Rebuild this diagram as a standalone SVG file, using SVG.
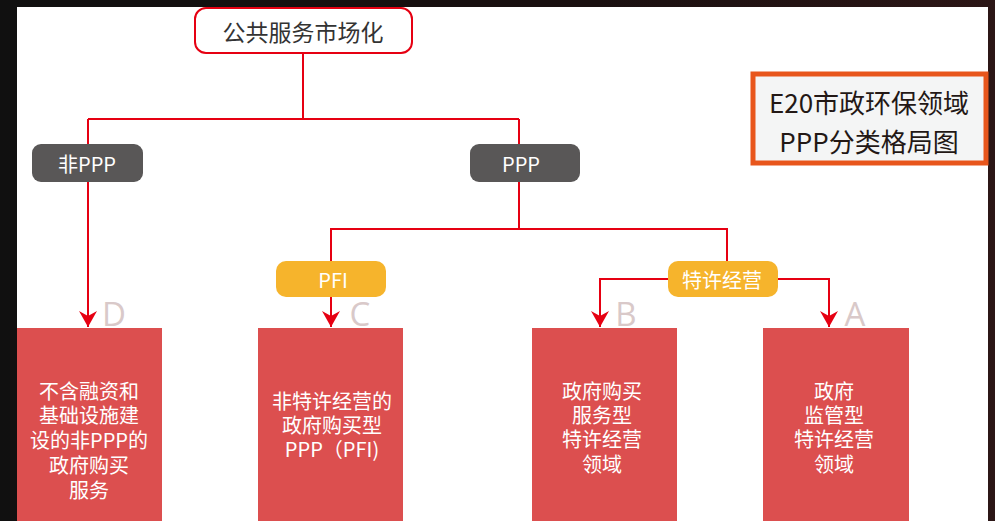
<svg xmlns="http://www.w3.org/2000/svg" width="995" height="521" viewBox="0 0 995 521">
<defs>
<linearGradient id="frame" x1="0" y1="0" x2="1" y2="0">
<stop offset="0" stop-color="#101010"/>
<stop offset="0.6" stop-color="#1a1010"/>
<stop offset="1" stop-color="#2c1616"/>
</linearGradient>
<marker id="arr" viewBox="0 0 16 18" refX="16" refY="9" markerWidth="16" markerHeight="18" markerUnits="userSpaceOnUse" orient="auto">
<path d="M16,9 L0,0 L5,9 L0,18 Z" fill="#e60012"/>
</marker>
</defs>
<style>
.cjk{font-family:"Noto Sans CJK SC","Noto Sans",sans-serif;}
.line{fill:none;stroke:#e60012;stroke-width:2;}
.gray{fill:#595757;}
.yel{fill:#f6b42c;}
.red{fill:#dc4f4f;}
.wt{fill:#ffffff;font-size:20px;text-anchor:middle;dominant-baseline:central;}
.lbl{fill:#d9c9c9;font-family:"Open Sans","Noto Sans",sans-serif;font-size:33px;text-anchor:middle;}
</style>
<rect x="0" y="0" width="995" height="521" fill="url(#frame)"/>
<rect x="17" y="7" width="971" height="514" fill="#ffffff"/>

<g id="connectors">
<polyline class="line" points="303,53 303,119"/>
<polyline class="line" points="88,119 519,119"/>
<polyline class="line" points="519,119 519,145"/>
<polyline class="line" points="88,119 88,145"/>
<polyline class="line" points="88,182 88,327" marker-end="url(#arr)"/>
<polyline class="line" points="519,182 519,229 331,229 331,327" marker-end="url(#arr)"/>
<polyline class="line" points="519,229 727,229 727,263"/>
<polyline class="line" points="669,279 600,279 600,327" marker-end="url(#arr)"/>
<polyline class="line" points="777,279 829,279 829,327" marker-end="url(#arr)"/>
</g>

<g id="root">
<rect x="195" y="8" width="217" height="45" rx="11" fill="#ffffff" stroke="#e60012" stroke-width="2"/>
<text class="cjk" x="303" y="31" font-size="23" fill="#333333" text-anchor="middle" dominant-baseline="central">公共服务市场化</text>
</g>

<g id="title">
<rect x="753" y="74" width="233" height="89" fill="#f4f5f5" stroke="#e8561c" stroke-width="5"/>
<text class="cjk" font-size="26" fill="#231815" text-anchor="middle" dominant-baseline="central"><tspan x="869" y="101">E20市政环保领域</tspan><tspan x="869" y="140">PPP分类格局图</tspan></text>
</g>

<g id="nonppp">
<rect class="gray" x="32" y="144" width="111" height="38" rx="9"/>
<text class="cjk wt" x="87" y="163" font-size="21">非PPP</text>
</g>

<g id="ppp">
<rect class="gray" x="470" y="144" width="110" height="38" rx="9"/>
<text class="cjk wt" x="521" y="163" font-size="21">PPP</text>
</g>

<g id="pfi">
<rect class="yel" x="276" y="261" width="110" height="36" rx="10"/>
<text class="cjk wt" x="333" y="279" font-size="21">PFI</text>
</g>

<g id="franchise">
<rect class="yel" x="668" y="261" width="110" height="36" rx="10"/>
<text class="cjk wt" x="722" y="279" font-size="22">特许经营</text>
</g>

<g id="boxD">
<rect class="red" x="17" y="328" width="145" height="193"/>
<text class="lbl" x="114" y="326">D</text>
<text class="cjk wt"><tspan x="89" y="390">不含融资和</tspan><tspan x="89" y="414">基础设施建</tspan><tspan x="89" y="439">设的非PPP的</tspan><tspan x="89" y="464">政府购买</tspan><tspan x="89" y="489">服务</tspan></text>
</g>

<g id="boxC">
<rect class="red" x="258" y="328" width="145" height="193"/>
<text class="lbl" x="360" y="326">C</text>
<text class="cjk wt"><tspan x="332" y="400">非特许经营的</tspan><tspan x="332" y="424">政府购买型</tspan><tspan x="332" y="448">PPP（PFI)</tspan></text>
</g>

<g id="boxB">
<rect class="red" x="532" y="328" width="145" height="193"/>
<text class="lbl" x="626" y="326">B</text>
<text class="cjk wt"><tspan x="602" y="390">政府购买</tspan><tspan x="602" y="414">服务型</tspan><tspan x="602" y="438">特许经营</tspan><tspan x="602" y="463">领域</tspan></text>
</g>

<g id="boxA">
<rect class="red" x="763" y="328" width="146" height="193"/>
<text class="lbl" x="855" y="326">A</text>
<text class="cjk wt"><tspan x="834" y="390">政府</tspan><tspan x="834" y="414">监管型</tspan><tspan x="834" y="438">特许经营</tspan><tspan x="834" y="463">领域</tspan></text>
</g>
</svg>
